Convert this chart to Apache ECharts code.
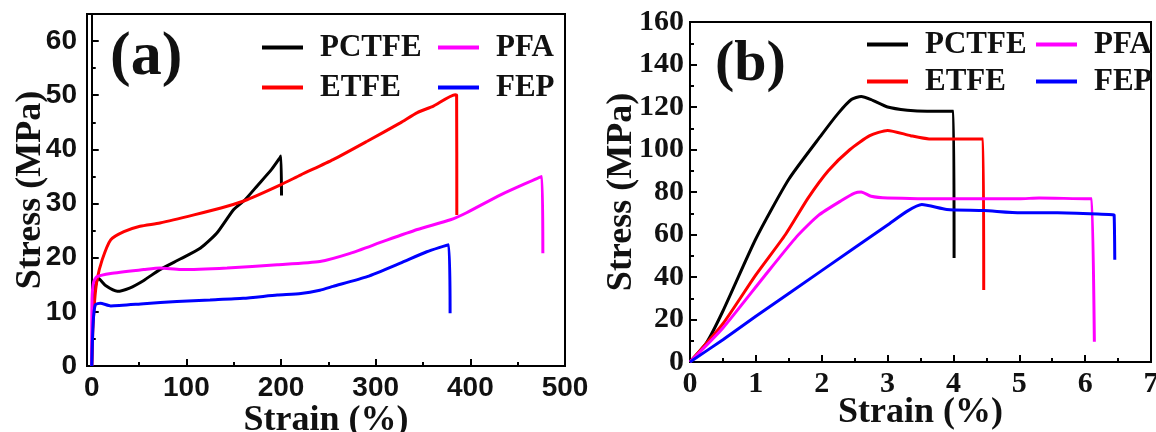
<!DOCTYPE html>
<html>
<head>
<meta charset="utf-8">
<script src="https://cdn.jsdelivr.net/npm/echarts@6/dist/echarts.min.js"></script>
<style>
  html, body { margin: 0; padding: 0; background: #fff; }
  #chart { width: 1156px; height: 432px; }
</style>
</head>
<body>
<div id="chart"></div>
<script>
// panel (a): large-strain curves
const pctfeStrainA = [0, 1, 3, 7, 15, 27, 40, 55, 72, 94, 115, 132, 150, 162, 175, 190, 199, 200, 200.5]
const pctfeStressA = [0, 8, 14, 16.2, 14.8, 13.8, 14.4, 15.8, 17.8, 19.8, 21.8, 24.5, 28.9, 30.7, 33.3, 36.3, 38.5, 38.8, 31.5]
const etfeStrainA = [0, 1, 3, 5.6, 11, 20, 34, 51, 72, 108, 143, 164, 200, 221, 255, 291, 326, 344, 361, 384, 385.5, 385.7]
const etfeStressA = [0, 6, 12, 15.9, 19.6, 23.3, 24.8, 25.8, 26.4, 27.9, 29.5, 30.7, 33.5, 35.3, 38.1, 41.5, 44.9, 46.8, 48, 50.1, 50, 27.9]
const pfaStrainA = [0, 0.3, 2, 5.6, 20, 55, 72, 94, 143, 196, 241, 273, 308, 344, 379, 396, 432, 475.5, 476.6]
const pfaStressA = [0, 12.2, 15.5, 16.5, 17.1, 17.8, 18.1, 17.8, 18.1, 18.7, 19.3, 20.8, 23, 25.2, 27, 28.3, 31.6, 35, 20.8]
const fepStrainA = [0, 1.5, 3.8, 9, 20, 55, 90, 125, 160, 196, 221, 241, 255, 291, 326, 354, 377, 378.6]
const fepStressA = [0, 8, 11.3, 11.6, 11.1, 11.5, 11.9, 12.2, 12.5, 13.1, 13.4, 14.0, 14.7, 16.5, 19, 21.1, 22.4, 9.75]

// panel (b): small-strain curves
const pctfeStrainB = [0, 0.25, 0.5, 1, 1.5, 2, 2.25, 2.45, 2.6, 2.75, 3, 3.3, 3.6, 3.95, 4.0, 4.01]
const pctfeStressB = [0, 9, 24, 58, 86, 107, 117, 123.5, 125, 123.5, 120, 118.5, 118, 118, 118, 49]
const etfeStrainB = [0, 0.5, 1, 1.45, 1.79, 2.1, 2.43, 2.73, 3.0, 3.35, 3.63, 3.9, 4.4, 4.45, 4.46]
const etfeStressB = [0, 18, 41, 60, 77, 90, 100, 106.5, 109, 106.5, 105, 105, 105, 105, 33.9]
const pfaStrainB = [0, 0.5, 1.12, 1.62, 1.95, 2.3, 2.5, 2.6, 2.75, 3.0, 4.0, 5.0, 5.3, 6.05, 6.1, 6.14]
const pfaStressB = [0, 16, 40, 59, 69, 76, 79.5, 80, 78, 77.2, 76.8, 76.8, 77.2, 76.8, 76.8, 9.5]
const fepStrainB = [0, 0.5, 1, 2, 3, 3.3, 3.52, 3.9, 4.46, 5.02, 5.58, 6.36, 6.42, 6.44, 6.45]
const fepStressB = [0, 10.5, 21.5, 43, 64.5, 71, 74.1, 71.8, 71.3, 70.2, 70.2, 69.4, 69.3, 69.2, 48.1]

const xMajorA = [0, 100, 200, 300, 400, 500]
const xMinorA = [50, 150, 250, 350, 450]
const yMajorA = [0, 10, 20, 30, 40, 50, 60]
const yMinorA = [5, 15, 25, 35, 45, 55]

const names = ['PCTFE', 'ETFE', 'PFA', 'FEP']
const colors = ['#000000', '#ff0000', '#ff00ff', '#0000ff']

function zip(xs, ys) {
  return xs.map((x, i) => [x, ys[i]])
}

const serif = 'Liberation Serif'
const sans = 'Liberation Sans'

const chart = echarts.init(document.getElementById('chart'))

function lineSeries(name, xs, ys, idx) {
  return {
    name: name,
    type: 'line',
    xAxisIndex: idx,
    yAxisIndex: idx,
    data: zip(xs, ys),
    showSymbol: false,
    symbol: 'none',
    smooth: 0.2,
    lineStyle: { width: 3, color: colors[names.indexOf(name)] },
    itemStyle: { color: colors[names.indexOf(name)] }
  }
}

const axisLineBlack = { show: true, lineStyle: { color: '#000', width: 2 } }
const titleStyle = { fontFamily: serif, fontWeight: 'bold', fontSize: 36, color: '#111' }

function legendCol(data, left, top, gap) {
  return {
    data: data,
    orient: 'vertical',
    left: left,
    top: top,
    padding: 0,
    itemGap: gap,
    icon: 'rect',
    itemWidth: 41,
    itemHeight: 4,
    textStyle: { fontFamily: serif, fontWeight: 'bold', fontSize: 31, color: '#111', padding: [0, 0, 0, 12] }
  }
}

chart.setOption({
  animation: false,
  backgroundColor: '#fff',
  grid: [
    { left: 87, top: 14, width: 478, height: 352, outerBoundsMode: 'none', containLabel: false, show: true, borderColor: '#000', borderWidth: 2 },
    { left: 690, top: 22, width: 461, height: 340, outerBoundsMode: 'none', containLabel: false, show: true, borderColor: '#000', borderWidth: 2 }
  ],
  legend: [
    legendCol(['PCTFE', 'ETFE'], 262, 32, 9),
    legendCol(['PFA', 'FEP'], 438, 32, 9),
    legendCol(['PCTFE', 'ETFE'], 867, 29, 6),
    legendCol(['PFA', 'FEP'], 1036, 29, 6)
  ],
  xAxis: [
    {
      gridIndex: 0, type: 'value', min: -5, max: 500, position: 'bottom',
      name: 'Strain (%)', nameLocation: 'middle', nameGap: 37, nameMoveOverlap: false, nameTextStyle: titleStyle,
      axisLine: axisLineBlack,
      axisTick: { show: true, inside: true, length: 7, customValues: xMajorA, lineStyle: { color: '#000', width: 2 } },
      axisLabel: { customValues: xMajorA, margin: 8, fontFamily: sans, fontWeight: 'bold', fontSize: 28, color: '#111' },
      splitLine: { show: false }
    },
    {
      gridIndex: 0, type: 'value', min: -5, max: 500, position: 'bottom',
      axisLine: { show: false },
      axisTick: { show: true, inside: true, length: 4, customValues: xMinorA, lineStyle: { color: '#000', width: 2 } },
      axisLabel: { show: false },
      splitLine: { show: false }
    },
    {
      gridIndex: 1, type: 'value', min: 0, max: 7, interval: 1,
      name: 'Strain (%)', nameLocation: 'middle', nameGap: 33, nameMoveOverlap: false, nameTextStyle: titleStyle,
      axisLine: axisLineBlack,
      axisTick: { show: true, inside: true, length: 7, lineStyle: { color: '#000', width: 2 } },
      minorTick: { show: true, splitNumber: 2, length: 4, lineStyle: { color: '#000', width: 2 } },
      axisLabel: { margin: 7, fontFamily: serif, fontWeight: 'bold', fontSize: 30, color: '#111' },
      splitLine: { show: false }
    }
  ],
  yAxis: [
    {
      gridIndex: 0, type: 'value', min: 0, max: 65, position: 'left',
      name: 'Stress (MPa)', nameLocation: 'middle', nameGap: 38, nameMoveOverlap: false, nameTextStyle: titleStyle,
      axisLine: axisLineBlack,
      axisTick: { show: true, inside: true, length: 7, customValues: yMajorA, lineStyle: { color: '#000', width: 2 } },
      axisLabel: { customValues: yMajorA, margin: 10, fontFamily: sans, fontWeight: 'bold', fontSize: 28, color: '#111' },
      splitLine: { show: false }
    },
    {
      gridIndex: 0, type: 'value', min: 0, max: 65, position: 'left',
      axisLine: { show: false },
      axisTick: { show: true, inside: true, length: 4, customValues: yMinorA, lineStyle: { color: '#000', width: 2 } },
      axisLabel: { show: false },
      splitLine: { show: false }
    },
    {
      gridIndex: 1, type: 'value', min: 0, max: 160, interval: 20,
      name: 'Stress (MPa)', nameLocation: 'middle', nameGap: 50, nameMoveOverlap: false, nameTextStyle: titleStyle,
      axisLine: axisLineBlack,
      axisTick: { show: true, inside: true, length: 7, lineStyle: { color: '#000', width: 2 } },
      minorTick: { show: true, splitNumber: 2, length: 4, lineStyle: { color: '#000', width: 2 } },
      axisLabel: { margin: 6, fontFamily: serif, fontWeight: 'bold', fontSize: 30, color: '#111' },
      splitLine: { show: false }
    }
  ],
  graphic: [
    { type: 'text', left: 110, top: 27, style: { text: '(a)', font: 'bold 62px "Liberation Serif"', fill: '#111' } },
    { type: 'text', left: 715, top: 36, style: { text: '(b)', font: 'bold 58px "Liberation Serif"', fill: '#111' } }
  ],
  series: [
    lineSeries('PCTFE', pctfeStrainA, pctfeStressA, 0),
    lineSeries('ETFE', etfeStrainA, etfeStressA, 0),
    lineSeries('PFA', pfaStrainA, pfaStressA, 0),
    lineSeries('FEP', fepStrainA, fepStressA, 0),
    lineSeries('PCTFE', pctfeStrainB, pctfeStressB, 2),
    lineSeries('ETFE', etfeStrainB, etfeStressB, 2),
    lineSeries('PFA', pfaStrainB, pfaStressB, 2),
    lineSeries('FEP', fepStrainB, fepStressB, 2)
  ]
})
</script>
</body>
</html>
